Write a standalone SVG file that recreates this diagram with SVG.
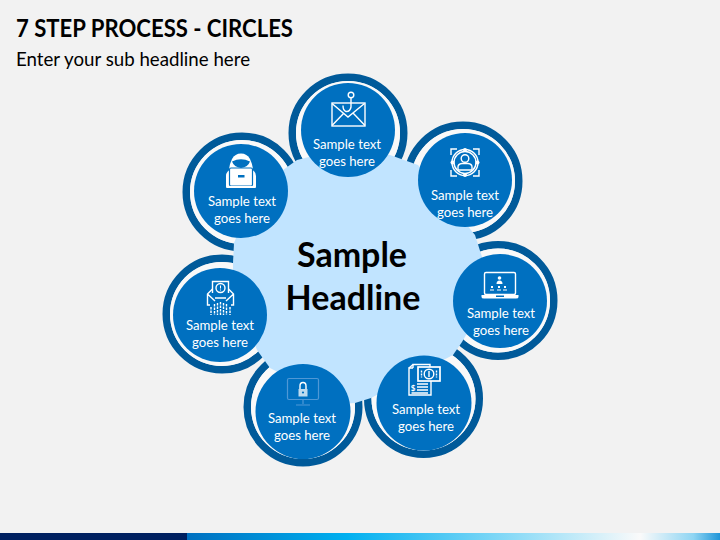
<svg xmlns="http://www.w3.org/2000/svg" width="720" height="540" viewBox="0 0 720 540">
<defs>
<linearGradient id="bar" x1="187" x2="720" y1="0" y2="0" gradientUnits="userSpaceOnUse">
<stop offset="0" stop-color="#0070c0"/><stop offset="0.3" stop-color="#00b0f0"/><stop offset="0.62" stop-color="#8fdcf7"/><stop offset="0.85" stop-color="#fafafa"/><stop offset="0.95" stop-color="#8fd5f3"/><stop offset="1" stop-color="#1f95d8"/>
</linearGradient>
<g id="ring"><circle r="55.75" fill="none" stroke="#005a9a" stroke-width="7.500"/><circle r="52" fill="#f9f9f9"/></g>
</defs>
<style>
text{font-family:Lato,"Noto Sans",sans-serif}
.t{font-size:13.2px;fill:#fff;text-anchor:middle}
.h{font-size:34px;font-weight:700;fill:#000;text-anchor:middle}
.disc{fill:#0070c0}
.i{fill:none;stroke:#fff;stroke-width:1.4}
.f{fill:#fff;stroke:none}
.b{fill:#0070c0;stroke:none}
.d{fill:none;stroke:#4f98d6;stroke-width:1.200}
</style>
<rect width="720" height="540" fill="#f2f2f2"/>
<rect x="0" y="533" width="720" height="7" fill="url(#bar)"/>
<rect x="0" y="533" width="187" height="7" fill="#002060"/>
<text x="16" y="37" font-size="24" font-weight="700" fill="#000" textLength="277" lengthAdjust="spacingAndGlyphs">7 STEP PROCESS - CIRCLES</text>
<text x="16" y="66" font-size="18.7" fill="#000">Enter your sub headline here</text>

<g id="rings">
<use href="#ring" x="348" y="133"/>
<use href="#ring" x="463" y="181"/>
<use href="#ring" x="498" y="300.500"/>
<use href="#ring" x="423.500" y="398.500"/>
<use href="#ring" x="303" y="407"/>
<use href="#ring" x="222" y="314"/>
<use href="#ring" x="242" y="192"/>
</g>
<g id="connectors"/>
<polygon id="hub" fill="#c1e4ff" points="297,160 345,148 390,155 418,165 475,235 482,257 486,300 462,342 453,355 371,398 355,403 340,404 270,368 257,350 233,290 233,263 234,243 255,190"/>
<g id="center"><text class="h" x="352" y="267">Sample</text><text class="h" x="353" y="310">Headline</text></g>

<g id="node-top">
<circle class="disc" cx="348" cy="130" r="47"/>
<rect class="i" x="332" y="103" width="33" height="23" stroke-width="2"/>
<path class="i" d="M332 103.500 348 117 364.500 103.500M332 125.500 344 113M365 125.500 353 113" stroke-width="1.800"/>
<circle class="i" cx="351" cy="95" r="2.800" stroke-width="1.800"/>
<path class="i" d="M351 98V107Q350 112 346 111.500Q343 110.500 343 105.500" stroke-width="3"/>
<text class="t" x="347" y="148.500">Sample text</text><text class="t" x="347" y="165.500">goes here</text>
</g>

<g id="node-top-right">
<circle class="disc" cx="465" cy="180" r="47"/>
<path class="i" d="M451 155V149H457M473 149H479V155M451 170V176H457M473 176H479V170" stroke="#cfe4f6" stroke-width="1"/>
<circle class="i" cx="465" cy="162.500" r="13" stroke-width="1"/>
<circle class="i" cx="465" cy="162.500" r="11" stroke-width="0.800"/>
<g class="f"><circle cx="465" cy="150" r="2"/><circle cx="465" cy="175" r="2"/><circle cx="452.500" cy="162.500" r="2"/><circle cx="477.500" cy="162.500" r="2"/></g>
<circle class="i" cx="465" cy="158.500" r="3.800" stroke-width="1"/>
<path class="i" d="M458 170V167Q458 164 462 163.500H468Q472 164 472 167V170Z" stroke-width="1"/>
<text class="t" x="465" y="199.500">Sample text</text><text class="t" x="465" y="216.500">goes here</text>
</g>

<g id="node-right">
<circle class="disc" cx="500" cy="301" r="47"/>
<rect class="i" x="484.500" y="272.500" width="31" height="22" rx="1.500" stroke-width="1.800"/>
<path class="f" d="M481.500 295H518.500V297Q518.500 298.500 516 298.500H484Q481.500 298.500 481.500 297Z"/>
<rect class="b" x="496" y="295.500" width="8" height="1.500"/>
<g class="f"><circle cx="499.500" cy="278" r="1.800"/><path d="M496.500 284Q496.500 280.500 499.500 280.500Q502.500 280.500 502.500 284Z"/>
<rect x="491" y="286" width="2" height="2"/><rect x="498" y="286" width="2" height="2"/><rect x="504" y="286" width="2" height="2"/>
<rect x="490" y="289.500" width="4" height="1"/><rect x="497" y="289.500" width="4" height="1"/><rect x="503" y="289.500" width="4" height="1"/></g>
<text class="t" x="501" y="317.500">Sample text</text><text class="t" x="501" y="334.500">goes here</text>
</g>

<g id="node-bottom-right">
<circle class="disc" cx="424" cy="403" r="47.500"/>
<path class="i" d="M413 368V364.500H430V367M413 368H409V395H431V380" stroke-width="1.500"/>
<path class="i" d="M413 364.500 409 368" stroke-width="1.300"/>
<rect x="418" y="367" width="22" height="14" fill="#0070c0" stroke="#fff" stroke-width="1.700"/>
<circle class="i" cx="429" cy="374" r="4.800" stroke-width="1.400"/>
<path class="i" d="M429 371V377" stroke-width="1.500"/>
<path class="i" d="M421.500 370.500V377.500M436.500 370.500V377.500" stroke-width="1.300" stroke-dasharray="2 1"/>
<path class="i" d="M417 384H428M417 387H428M417 390H428M411.500 393H428" stroke-width="1.400"/>
<text x="413" y="391" font-size="8" fill="#fff" text-anchor="middle" font-weight="700">$</text>
<text class="t" x="426" y="413.500">Sample text</text><text class="t" x="426" y="430.500">goes here</text>
</g>

<g id="node-bottom-left">
<circle class="disc" cx="303" cy="411.500" r="47.500"/>
<rect class="d" x="287.500" y="378.500" width="31" height="21" rx="1.500"/>
<path class="d" d="M303 399.500V404M296 405H310"/>
<path class="f" d="M298.500 389H307.500V396.500H298.500Z" opacity="0.75"/>
<path class="i" d="M300 389V386Q300 382.500 303 382.500Q306 382.500 306 386V389" stroke="#c5dff2" stroke-width="1.600"/>
<circle cx="303" cy="392.500" r="1.100" fill="#0070c0"/>
<text class="t" x="302" y="422.500">Sample text</text><text class="t" x="302" y="439.500">goes here</text>
</g>

<g id="node-left">
<circle class="disc" cx="220" cy="315" r="47"/>
<path class="i" d="M212.500 293V281.500H228.500V293" stroke-width="1.400"/>
<circle class="i" cx="220.500" cy="288" r="4.500" stroke-width="1.200"/>
<rect class="f" x="220" y="285.500" width="1" height="3"/><rect class="f" x="220" y="289.500" width="1" height="1"/>
<path class="i" d="M212.500 289 207.500 294V305H210M228.500 289 233.500 294V305H231M207.500 294 215 301M233.500 294 226 301M215 298H226" stroke-width="1.400"/>
<path class="i" d="M211 307V315M214.500 304V315M217.500 303V315M220.500 302V315M223.500 303V315M226.500 304V315M230 307V315" stroke-width="1.200" stroke-dasharray="2.500 1"/>
<text class="t" x="220" y="329.500">Sample text</text><text class="t" x="220" y="346.500">goes here</text>
</g>

<g id="node-top-left">
<circle class="disc" cx="241" cy="191" r="47"/>
<path class="f" d="M241 153.500Q247 153.500 250 159Q252 163 253 169H229Q230 163 232 159Q235 153.500 241 153.500Z"/>
<path class="b" d="M232 161.500Q241 157 250 161.500Q248 167 241 168Q234 167 232 161.500Z"/>
<path class="f" d="M226 187V176Q226 171 232 168.500H250Q256 171 256 176V187Z"/>
<rect x="229.500" y="168" width="23" height="18" rx="1.500" fill="#fff" stroke="#0070c0" stroke-width="1.200"/>
<rect class="f" x="226" y="186" width="30" height="2" rx="1"/>
<rect class="b" x="238" y="175" width="6.500" height="2.500"/>
<text class="t" x="242" y="205.500">Sample text</text><text class="t" x="242" y="222.500">goes here</text>
</g>
</svg>
